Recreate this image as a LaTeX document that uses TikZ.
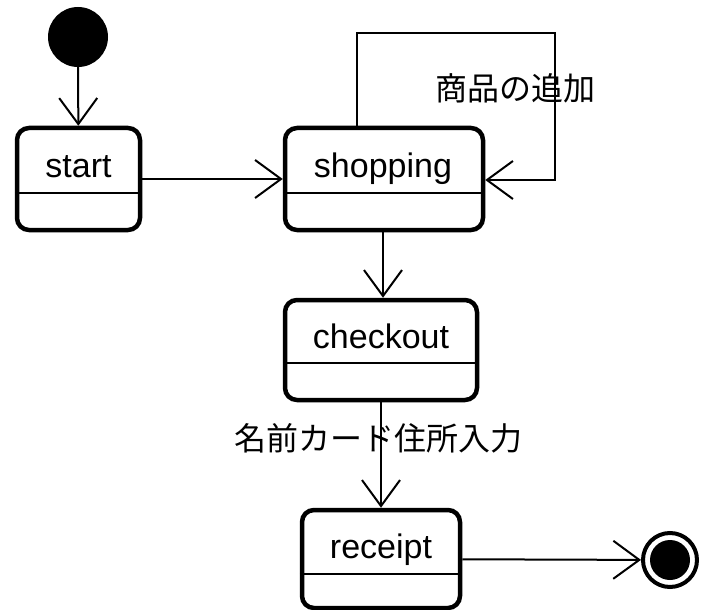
\documentclass[tikz,border=0pt]{standalone}
\usepackage{fontspec}
\setmainfont{Liberation Sans}
\newfontfamily\jpfont{Noto Sans CJK JP}
\usetikzlibrary{arrows.meta}
\tikzset{
  statebox/.style={draw, line width=4.5pt, rounded corners=12pt, inner sep=0pt},
  divider/.style={line width=2pt},
  statelabel/.style={anchor=base, inner sep=0pt, font=\fontsize{34}{40}\selectfont},
  conn/.style={line width=2pt, -{Straight Barb[length=26pt, width=38pt, line width=2pt]}},
  guard/.style={anchor=base, inner sep=0pt, font=\jpfont\fontsize{32}{36}\selectfont},
}
\begin{document}
\begin{tikzpicture}[x=1pt, y=-1pt]
\useasboundingbox (0,0) rectangle (705,610);

% initial and final pseudo-states
\node[circle, fill, minimum size=60pt, inner sep=0pt] (init) at (78,37) {};
\node[circle, draw, line width=4pt, minimum size=54pt, inner sep=0pt] (final) at (670,560) {};
\node[circle, fill, minimum size=40pt, inner sep=0pt] (finalcore) at (final) {};

% states
\node[statebox, minimum width=123pt, minimum height=102pt] (start) at (78.5,179) {};
\node[statelabel] (startlbl) at (78.5,177) {start};
\draw[divider] (start.west |- 0,193) -- (start.east |- 0,193);

\node[statebox, minimum width=198pt, minimum height=102pt] (shopping) at (384,179) {};
\node[statelabel] (shoppinglbl) at (383,177) {shopping};
\draw[divider] (shopping.west |- 0,193) -- (shopping.east |- 0,193);

\node[statebox, minimum width=192pt, minimum height=100pt] (checkout) at (381,350) {};
\node[statelabel] (checkoutlbl) at (381,348) {checkout};
\draw[divider] (checkout.west |- 0,363) -- (checkout.east |- 0,363);

\node[statebox, minimum width=158pt, minimum height=98pt] (receipt) at (381,559) {};
\node[statelabel] (receiptlbl) at (381,558) {receipt};
\draw[divider] (receipt.west |- 0,574) -- (receipt.east |- 0,574);

% transitions
\draw[conn] (init) -- (start);
\draw[conn] (start) -- (shopping);
\coordinate (loopA) at (357,33);
\coordinate (loopB) at (555,180);
\draw[conn] (shopping.north -| loopA) -- (loopA) -| (loopB) -- (shopping.east |- loopB);
\draw[conn] (shopping.south -| 383,0) -- (checkout.north -| 383,0);
\draw[conn] (checkout) -- (receipt);
\draw[conn] (receipt) -- (final);

% guards
\node[guard] (addlbl) at (515,101) {商品の追加};
\node[guard] (inputlbl) at (378,450) {名前カード住所入力};
\end{tikzpicture}
\end{document}
